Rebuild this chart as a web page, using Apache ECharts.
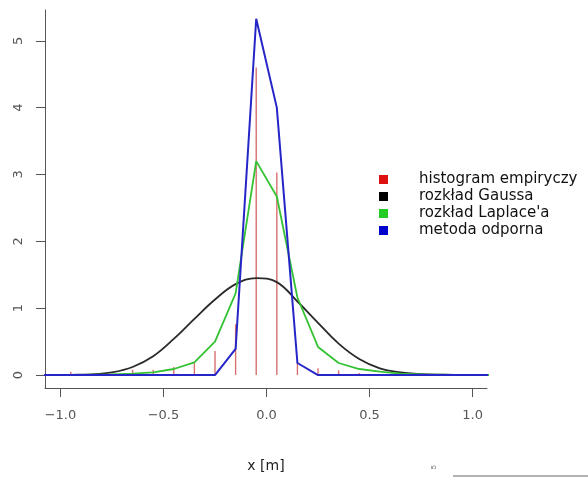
<!DOCTYPE html>
<html>
<head>
<meta charset="utf-8">
<script src="https://cdn.jsdelivr.net/npm/echarts@6/dist/echarts.min.js"></script>
<style>
  html, body { margin: 0; padding: 0; background: #fff; }
  #chart { width: 588px; height: 478px; }
</style>
</head>
<body>
<div id="chart"></div>
<script>
// dane (srodki przedzialow co 0.1)
var xs = [-1.15, -1.05, -0.95, -0.85, -0.75, -0.65, -0.55, -0.45, -0.35, -0.25, -0.15, -0.05,
          0.05, 0.15, 0.25, 0.35, 0.45, 0.55, 0.65, 0.75, 0.85, 0.95, 1.05, 1.15];
var gauss = [0, 0, 0.003, 0.01, 0.04, 0.12, 0.28, 0.54, 0.84, 1.13, 1.36, 1.45,
             1.39, 1.1, 0.78, 0.47, 0.24, 0.1, 0.04, 0.015, 0.005, 0, 0, 0];
var laplace = [0, 0, 0, 0.005, 0.01, 0.02, 0.04, 0.09, 0.19, 0.5, 1.22, 3.2,
               2.67, 1.16, 0.42, 0.18, 0.09, 0.05, 0.02, 0.01, 0.005, 0, 0, 0];
var odporna = [0, 0, 0, 0, 0, 0, 0, 0, 0, 0, 0.39, 5.33,
               4.0, 0.18, 0, 0, 0, 0, 0, 0, 0, 0, 0, 0];
// histogram empiryczny (linie pionowe)
var histX = [-0.95, -0.65, -0.55, -0.45, -0.35, -0.25, -0.15, -0.05, 0.05, 0.15, 0.25, 0.35, 0.45];
var histY = [0.05, 0.08, 0.08, 0.12, 0.19, 0.36, 0.76, 4.6, 3.03, 0.2, 0.1, 0.07, 0.03];
var xTicks = [-1.0, -0.5, 0.0, 0.5, 1.0];
var yTicks = [0, 1, 2, 3, 4, 5];
var names = ['histogram empiryczy', 'rozkład Gaussa', "rozkład Laplace'a", 'metoda odporna'];
var colors = ['#dd1111', '#000000', '#22cc22', '#0000cc'];

function pairs(a, b) {
  var out = [];
  for (var i = 0; i < a.length; i++) out.push([a[i], b[i]]);
  return out;
}

var myChart = echarts.init(document.getElementById('chart'));

var axisColor = '#555';
var font = 'DejaVu Sans, sans-serif';

option = {
  backgroundColor: '#fff',
  animation: false,
  grid: { left: 45, right: 101, top: 10, bottom: 89 },
  xAxis: {
    type: 'value',
    min: -1.075,
    max: 1.07,
    splitLine: { show: false },
    axisLine: { onZero: false, lineStyle: { color: axisColor, width: 1 } },
    axisTick: { length: 9, lineStyle: { color: axisColor }, customValues: xTicks },
    axisLabel: {
      customValues: xTicks,
      color: '#555',
      fontSize: 13,
      fontFamily: font,
      margin: 21,
      formatter: function (v) { return v.toFixed(1).replace('-', '\u2212'); }
    },
    name: 'x [m]',
    nameLocation: 'middle',
    nameGap: 71,
    nameTextStyle: { color: '#222', fontSize: 14, fontFamily: font }
  },
  yAxis: {
    type: 'value',
    min: -0.194,
    max: 5.46,
    splitLine: { show: false },
    axisLine: { show: true, onZero: false, lineStyle: { color: axisColor, width: 1 } },
    axisTick: { show: true, length: 9, lineStyle: { color: axisColor }, customValues: yTicks },
    axisLabel: {
      customValues: yTicks,
      rotate: 90,
      color: '#555',
      fontSize: 13,
      fontFamily: font,
      margin: 20
    }
  },
  legend: {
    orient: 'vertical',
    left: 374,
    top: 166,
    itemWidth: 9,
    itemHeight: 9,
    itemGap: 0,
    icon: 'rect',
    textStyle: { color: '#111', fontSize: 15, lineHeight: 17, fontFamily: font, padding: [0, 0, 0, 26] },
    data: names.map(function (n, i) {
      return { name: n, icon: 'rect', itemStyle: { color: colors[i] } };
    })
  },
  series: [
    {
      name: names[0],
      type: 'custom',
      itemStyle: { color: colors[0] },
      encode: { x: 0, y: 1 },
      data: pairs(histX, histY),
      renderItem: function (params, api) {
        var p0 = api.coord([api.value(0), 0]);
        var p1 = api.coord([api.value(0), api.value(1)]);
        return {
          type: 'line',
          shape: { x1: p0[0], y1: p0[1], x2: p1[0], y2: p1[1] },
          style: { stroke: '#d87070', lineWidth: 1.4 }
        };
      }
    },
    {
      name: names[1],
      type: 'line',
      data: pairs(xs, gauss),
      smooth: 0.4,
      showSymbol: false,
      itemStyle: { color: colors[1] },
      lineStyle: { color: '#2a2a2a', width: 1.8 }
    },
    {
      name: names[2],
      type: 'line',
      data: pairs(xs, laplace),
      showSymbol: false,
      itemStyle: { color: colors[2] },
      lineStyle: { color: '#33c233', width: 1.8 }
    },
    {
      name: names[3],
      type: 'line',
      data: pairs(xs, odporna),
      showSymbol: false,
      itemStyle: { color: colors[3] },
      lineStyle: { color: '#2626c8', width: 2 }
    }
  ],
  graphic: [
    { type: 'text', left: 430, top: 465, rotation: Math.PI / 2,
      style: { text: '5', fontSize: 8, fill: '#777', font: '8px DejaVu Sans' } },
    { type: 'line', shape: { x1: 453, y1: 476, x2: 588, y2: 476 },
      style: { stroke: '#999', lineWidth: 1.5 } }
  ]
};

myChart.setOption(option);
</script>
</body>
</html>
